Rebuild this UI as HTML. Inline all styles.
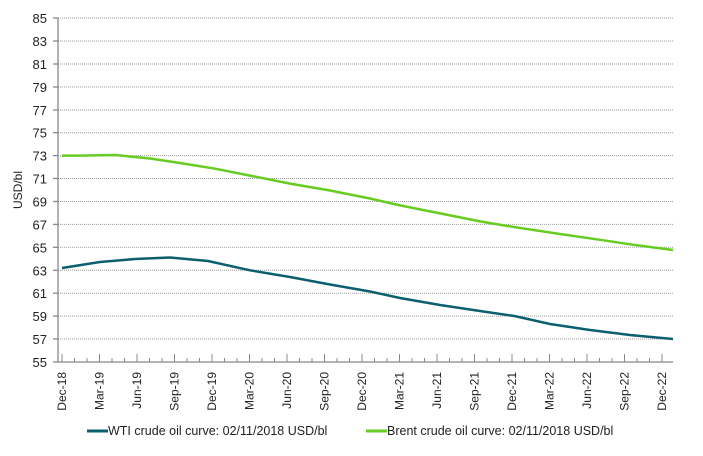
<!DOCTYPE html>
<html><head><style>body{margin:0;background:#fff}svg{display:block}text{font-family:"Liberation Sans",Arial,sans-serif;fill:#222}</style></head><body>
<svg width="703" height="456" viewBox="0 0 703 456">
<g stroke="#999" stroke-width="1" stroke-dasharray="1,1">
<line x1="58" y1="18" x2="673" y2="18"/><line x1="58" y1="41" x2="673" y2="41"/><line x1="58" y1="64" x2="673" y2="64"/><line x1="58" y1="87" x2="673" y2="87"/><line x1="58" y1="110" x2="673" y2="110"/><line x1="58" y1="132.7" x2="673" y2="132.7"/><line x1="58" y1="155.6" x2="673" y2="155.6"/><line x1="58" y1="178.5" x2="673" y2="178.5"/><line x1="58" y1="201.5" x2="673" y2="201.5"/><line x1="58" y1="224.4" x2="673" y2="224.4"/><line x1="58" y1="247.3" x2="673" y2="247.3"/><line x1="58" y1="270.3" x2="673" y2="270.3"/><line x1="58" y1="293.2" x2="673" y2="293.2"/><line x1="58" y1="316.1" x2="673" y2="316.1"/><line x1="58" y1="339" x2="673" y2="339"/>
</g>
<g stroke="#888" stroke-width="1.3">
<line x1="58" y1="18" x2="58" y2="362"/><line x1="58" y1="362" x2="673" y2="362"/>
<line x1="53" y1="18" x2="58" y2="18"/><line x1="53" y1="41" x2="58" y2="41"/><line x1="53" y1="64" x2="58" y2="64"/><line x1="53" y1="87" x2="58" y2="87"/><line x1="53" y1="110" x2="58" y2="110"/><line x1="53" y1="132.7" x2="58" y2="132.7"/><line x1="53" y1="155.6" x2="58" y2="155.6"/><line x1="53" y1="178.5" x2="58" y2="178.5"/><line x1="53" y1="201.5" x2="58" y2="201.5"/><line x1="53" y1="224.4" x2="58" y2="224.4"/><line x1="53" y1="247.3" x2="58" y2="247.3"/><line x1="53" y1="270.3" x2="58" y2="270.3"/><line x1="53" y1="293.2" x2="58" y2="293.2"/><line x1="53" y1="316.1" x2="58" y2="316.1"/><line x1="53" y1="339" x2="58" y2="339"/><line x1="53" y1="362" x2="58" y2="362"/>
</g>
<g stroke="#888" stroke-width="1" id="tk"></g>
<g font-size="13" text-anchor="end">
<text x="47" y="23">85</text><text x="47" y="46">83</text><text x="47" y="69">81</text><text x="47" y="92">79</text><text x="47" y="115">77</text><text x="47" y="137.7">75</text><text x="47" y="160.6">73</text><text x="47" y="183.5">71</text><text x="47" y="206.5">69</text><text x="47" y="229.4">67</text><text x="47" y="252.3">65</text><text x="47" y="275.3">63</text><text x="47" y="298.2">61</text><text x="47" y="321.1">59</text><text x="47" y="344">57</text><text x="47" y="367">55</text>
</g>
<text x="0" y="0" font-size="12" transform="translate(22,190) rotate(-90)" text-anchor="middle">USD/bl</text>
<g id="xl" font-size="12" text-anchor="end"></g>
<polyline fill="none" stroke="#66cc22" stroke-width="2.5" points="62,155.6 80,155.6 115,155 150,158.5 180,163 215,168.7 250,175.6 290,183.6 330,190.5 370,198.5 400,205.4 440,213.4 480,221.4 515,227.2 560,234 600,239.8 630,244.3 673,250"/>
<polyline fill="none" stroke="#0b5f6f" stroke-width="2.5" points="62,268 100,262 135,259 170,257.5 208,261 250,270.3 290,277 330,284.5 370,291.5 400,298 440,305 480,311 515,316.1 550,324 590,330 630,335 673,339"/>
<line x1="87" y1="431" x2="108" y2="431" stroke="#0b5f6f" stroke-width="3"/>
<text x="108" y="435" font-size="12.5">WTI crude oil curve: 02/11/2018 USD/bl</text>
<line x1="366" y1="431" x2="387" y2="431" stroke="#66cc22" stroke-width="3"/>
<text x="387" y="435" font-size="12.5">Brent crude oil curve: 02/11/2018 USD/bl</text>
</svg>
<script>
var ns="http://www.w3.org/2000/svg",tk=document.getElementById("tk"),xl=document.getElementById("xl");
var labs=["Dec-18","Mar-19","Jun-19","Sep-19","Dec-19","Mar-20","Jun-20","Sep-20","Dec-20","Mar-21","Jun-21","Sep-21","Dec-21","Mar-22","Jun-22","Sep-22","Dec-22"];
for(var i=0;i<=48;i++){var x=62+i*12.5;var l=document.createElementNS(ns,"line");l.setAttribute("x1",x);l.setAttribute("x2",x);l.setAttribute("y1",i%3==0?354:358);l.setAttribute("y2",362);tk.appendChild(l);}
for(var j=0;j<17;j++){var x=62+j*37.5+4;var t=document.createElementNS(ns,"text");t.setAttribute("transform","translate("+x+",372) rotate(-90)");t.textContent=labs[j];xl.appendChild(t);}
</script>
</body></html>
